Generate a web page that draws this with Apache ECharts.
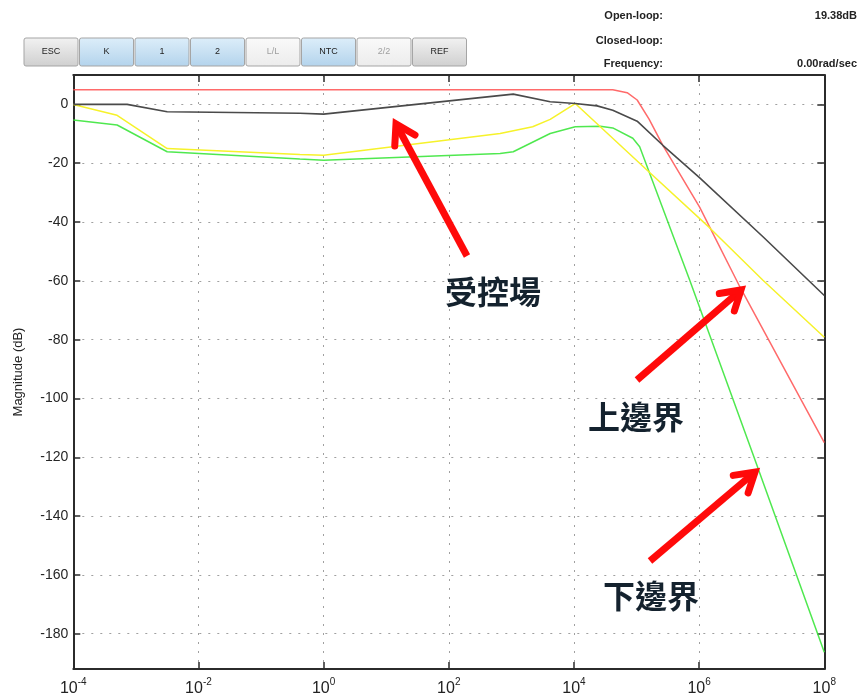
<!DOCTYPE html>
<html>
<head>
<meta charset="utf-8">
<script src="https://cdn.jsdelivr.net/npm/echarts@6/dist/echarts.min.js"></script>
<style>
  html, body { margin: 0; padding: 0; background: #fff; }
  #chart { width: 861px; height: 700px; }
</style>
</head>
<body>
<div id="chart"></div>
<script>
// Frequency as decade exponent (10^x rad/s), magnitude in dB
const plantExp   = [-4, -3.14, -2.5, -0.38, 0, 3.03, 3.62, 4.02, 4.37, 4.62, 5.01, 5.42, 6.01, 7.02, 8];
const plantMag   = [0, 0, -2.5, -3, -3.3, 3.5, 0.9, 0.3, -0.5, -2, -5.7, -13.9, -25, -45, -65];

const upperExp   = [-4, 4.62, 4.85, 5.01, 5.2, 5.42, 6.01, 6.65, 8];
const upperMag   = [5, 5, 4, 1.5, -5, -13.9, -35, -62, -115];

const nominalExp = [-4, -3.3, -2.5, -0.38, 0, 2.82, 3.34, 3.62, 4.02, 5.17, 6.17, 7.02, 8];
const nominalMag = [0, -3.7, -15, -17, -17.3, -9.9, -7.6, -5.1, 0.3, -22.4, -42, -59.8, -79.2];

const lowerExp   = [-4, -3.3, -2.5, -0.38, 0, 2.82, 3.03, 3.62, 4.02, 4.42, 4.62, 4.94, 5.05, 5.85, 6.86, 8];
const lowerMag   = [-5.3, -7, -16.1, -18.6, -19, -16.7, -16.1, -9.9, -7.6, -7.4, -8, -11.5, -14.4, -59.8, -119, -186.3];

const magTicks = [0, -20, -40, -60, -80, -100, -120, -140, -160, -180];

const buttonLabels = ['ESC', 'K', '1', '2', 'L/L', 'NTC', '2/2', 'REF'];
const buttonKinds  = ['gray', 'blue', 'blue', 'blue', 'off', 'blue', 'off', 'gray'];

const zip = (xs, ys) => xs.map((x, i) => [x, ys[i]]);

const chart = echarts.init(document.getElementById('chart'), null, { renderer: 'canvas' });

const gridStyle = { show: true, lineStyle: { color: '#a0a0a0', type: [2, 7], width: 1 } };
const frameLine = { show: true, onZero: false, lineStyle: { color: '#2b2b2b', width: 2 } };
const innerTick = { show: true, inside: true, length: 7, lineStyle: { color: '#2b2b2b', width: 1.5 } };
const latin = '"Liberation Sans", Arial, sans-serif';

function lineSeries(name, xs, ys, color, width) {
  return {
    name, type: 'line', data: zip(xs, ys), symbol: 'none', smooth: false,
    lineStyle: { color, width }, z: 3, animation: false
  };
}

// Buttons toolbar
const btnStyles = {
  gray: { fill: new echarts.graphic.LinearGradient(0, 0, 0, 1, [{ offset: 0, color: '#f2f2f2' }, { offset: 1, color: '#cfcfcf' }]), text: '#222' },
  blue: { fill: new echarts.graphic.LinearGradient(0, 0, 0, 1, [{ offset: 0, color: '#ddeefa' }, { offset: 1, color: '#b3d3ec' }]), text: '#222' },
  off:  { fill: new echarts.graphic.LinearGradient(0, 0, 0, 1, [{ offset: 0, color: '#fafafa' }, { offset: 1, color: '#ececec' }]), text: '#a0a0a0' }
};
const graphics = [];
buttonLabels.forEach((lab, i) => {
  const st = btnStyles[buttonKinds[i]];
  const x = 24 + i * 55.5;
  graphics.push({
    type: 'rect', shape: { x: x, y: 38, width: 54, height: 28, r: 2 },
    style: { fill: st.fill, stroke: '#a5a5a5', lineWidth: 1 }, silent: true
  });
  graphics.push({
    type: 'text', x: x + 27, y: 52,
    style: { text: lab, fill: st.text, font: '9px "Liberation Sans Narrow", "Liberation Sans", sans-serif', align: 'center', verticalAlign: 'middle' },
    silent: true
  });
});

// Readout panel
const readout = [
  ['Open-loop:', '19.38dB', 16],
  ['Closed-loop:', '', 41],
  ['Frequency:', '0.00rad/sec', 64]
];
readout.forEach(r => {
  graphics.push({ type: 'text', x: 663, y: r[2], style: { text: r[0], fill: '#222', font: 'bold 11px ' + latin, align: 'right', verticalAlign: 'middle' } });
  if (r[1]) graphics.push({ type: 'text', x: 857, y: r[2], style: { text: r[1], fill: '#222', font: 'bold 11px ' + latin, align: 'right', verticalAlign: 'middle' } });
});

// Annotation arrows
function arrow(x1, y1, x2, y2) {
  const ang = Math.atan2(y2 - y1, x2 - x1);
  const L = 22, spread = 0.55;
  const a1 = [x2 - L * Math.cos(ang - spread), y2 - L * Math.sin(ang - spread)];
  const a2 = [x2 - L * Math.cos(ang + spread), y2 - L * Math.sin(ang + spread)];
  const sx = x2 - 4 * Math.cos(ang), sy = y2 - 4 * Math.sin(ang);
  graphics.push({ type: 'polyline', shape: { points: [[x1, y1], [sx, sy]] }, style: { stroke: '#ff0a0a', lineWidth: 7, lineCap: 'butt' }, z: 10 });
  graphics.push({ type: 'polyline', shape: { points: [a1, [x2, y2], a2] }, style: { stroke: '#ff0a0a', lineWidth: 7, lineCap: 'round', lineJoin: 'miter' }, z: 10 });
}
arrow(467, 256, 396, 124);
arrow(637, 380, 741, 290);
arrow(650, 561, 755, 472);

const cjkFont = 'bold 32px "Noto Sans CJK TC", "Noto Sans CJK SC", sans-serif';
[['受控場', 493, 292], ['上邊界', 636, 417], ['下邊界', 651, 596]].forEach(t => {
  graphics.push({ type: 'text', x: t[1], y: t[2], z: 10, style: { text: t[0], fill: '#14222e', font: cjkFont, align: 'center', verticalAlign: 'middle' } });
});

const option = {
  animation: false,
  backgroundColor: '#ffffff',
  grid: { left: 73.3, right: 36.7, top: 75, bottom: 31, containLabel: false },
  xAxis: [
    {
      type: 'value', min: -4, max: 8, interval: 2, position: 'bottom',
      axisLine: frameLine, axisTick: innerTick, splitLine: gridStyle,
      axisLabel: {
        margin: 8,
        formatter: v => '{b|10}{s|' + v + '}',
        rich: {
          b: { fontSize: 16, fontFamily: latin, color: '#222', lineHeight: 20, verticalAlign: 'bottom' },
          s: { fontSize: 10, fontFamily: latin, color: '#222', verticalAlign: 'top' }
        }
      }
    },
    {
      type: 'value', min: -4, max: 8, interval: 2, position: 'top',
      axisLine: frameLine, axisTick: innerTick, splitLine: { show: false }, axisLabel: { show: false }
    }
  ],
  yAxis: [
    {
      type: 'value', min: -192, max: 10, position: 'left',
      name: 'Magnitude (dB)', nameLocation: 'middle', nameRotate: 90, nameGap: 48,
      nameTextStyle: { fontSize: 13, fontFamily: latin, color: '#222' },
      axisLine: frameLine,
      axisTick: Object.assign({ customValues: magTicks }, innerTick),
      splitLine: gridStyle,
      axisLabel: { customValues: magTicks, margin: 5, fontSize: 14, fontFamily: latin, color: '#262626' }
    },
    {
      type: 'value', min: -192, max: 10, position: 'right',
      axisLine: frameLine,
      axisTick: Object.assign({ customValues: magTicks }, innerTick),
      splitLine: { show: false }, axisLabel: { show: false }
    }
  ],
  series: [
    lineSeries('upper', upperExp, upperMag, 'rgba(255, 80, 80, 0.85)', 1.5),
    lineSeries('lower', lowerExp, lowerMag, 'rgba(60, 230, 60, 0.9)', 1.5),
    lineSeries('nominal', nominalExp, nominalMag, '#f6f22a', 1.5),
    lineSeries('plant', plantExp, plantMag, '#4a4a4a', 1.6)
  ],
  graphic: graphics
};

chart.setOption(option);
</script>
</body>
</html>
